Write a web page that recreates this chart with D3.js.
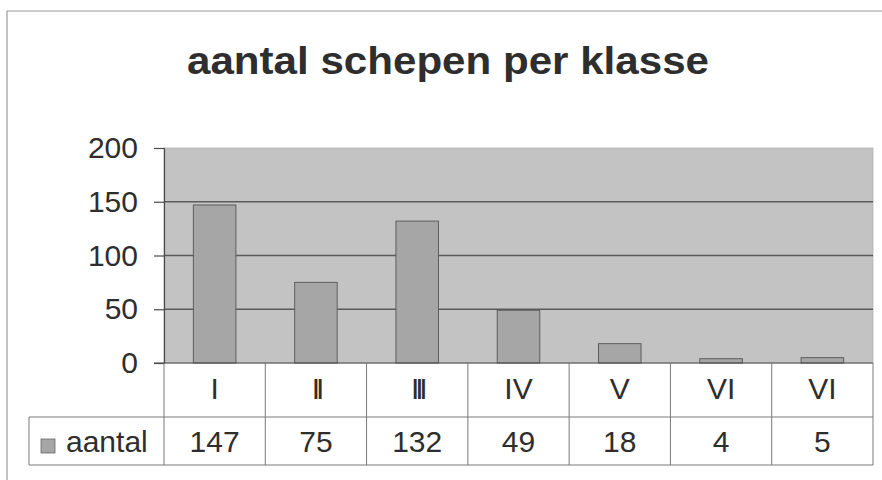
<!DOCTYPE html>
<html>
<head>
<meta charset="utf-8">
<script src="https://cdn.jsdelivr.net/npm/d3@7"></script>
<style>
  html, body { margin: 0; padding: 0; background: #fff; }
  svg { display: block; font-family: "Liberation Sans", Arial, sans-serif; }
</style>
</head>
<body>
<svg id="chart" width="882" height="480"></svg>
<script>
// ---- data ----
const title = "aantal schepen per klasse";
const seriesName = "aantal";
const categories = ["I", "II", "III", "IV", "V", "VI", "VI"];
const values = [147, 75, 132, 49, 18, 4, 5];
const yTicks = [0, 50, 100, 150, 200];

// ---- layout ----
const W = 882, H = 480;
const plot = { left: 164, right: 873, top: 148, bottom: 363 };
const row1Bottom = 417, row2Bottom = 465, legendLeft = 29;

const svg = d3.select("#chart");
const textColor = "#2e2e2e";
const lineColor = "#7a7a7a";

// outer frame
svg.append("path")
  .attr("d", `M7,${H} V11 H${W}`)
  .attr("fill", "none").attr("stroke", "#9a9a9a").attr("stroke-width", 1.2);

// title
svg.append("text")
  .attr("x", 187).attr("y", 74)
  .attr("font-size", 38).attr("font-weight", "bold")
  .attr("textLength", 522).attr("lengthAdjust", "spacingAndGlyphs")
  .attr("fill", textColor)
  .text(title);

const x = d3.scaleBand().domain(d3.range(categories.length))
  .range([plot.left, plot.right]).paddingInner(0).paddingOuter(0);
const y = d3.scaleLinear().domain([0, 200]).range([plot.bottom, plot.top]);

// plot background
svg.append("rect")
  .attr("x", plot.left).attr("y", plot.top)
  .attr("width", plot.right - plot.left).attr("height", plot.bottom - plot.top)
  .attr("fill", "#c3c3c3").attr("stroke", "#b5b5b5").attr("stroke-width", 0.8);

// gridlines
svg.append("g").selectAll("line")
  .data(yTicks.filter(d => d > 0 && d < 200))
  .join("line")
  .attr("x1", plot.left).attr("x2", plot.right)
  .attr("y1", d => y(d)).attr("y2", d => y(d))
  .attr("stroke", "#5a5a5a").attr("stroke-width", 1.3);

// bars
const barW = x.bandwidth() * 0.42;
svg.append("g").selectAll("rect")
  .data(values)
  .join("rect")
  .attr("x", (d, i) => x(i) + (x.bandwidth() - barW) / 2)
  .attr("y", d => y(d))
  .attr("width", barW)
  .attr("height", d => y(0) - y(d))
  .attr("fill", "#a6a6a6")
  .attr("stroke", "#5e5e5e").attr("stroke-width", 1);

// y axis
const yAxis = d3.axisLeft(y).tickValues(yTicks).tickSize(10).tickPadding(16);
const gy = svg.append("g").attr("transform", `translate(${plot.left},0)`).call(yAxis);
gy.select(".domain").attr("stroke", "#4a4a4a").attr("stroke-width", 1.2);
gy.selectAll(".tick line").attr("stroke", "#4a4a4a").attr("stroke-width", 1.2);
gy.selectAll(".tick text")
  .attr("font-size", 30).attr("fill", textColor)
  .attr("font-family", "Liberation Sans, Arial, sans-serif");

// x axis line across the bottom including tick stub
svg.append("line")
  .attr("x1", plot.left - 10).attr("x2", plot.right)
  .attr("y1", plot.bottom).attr("y2", plot.bottom)
  .attr("stroke", "#4a4a4a").attr("stroke-width", 1.2);

// ---- data table ----
const tbl = svg.append("g");
tbl.append("line").attr("x1", legendLeft).attr("x2", plot.right)
  .attr("y1", row1Bottom).attr("y2", row1Bottom)
  .attr("stroke", lineColor).attr("stroke-width", 1);
tbl.append("line").attr("x1", legendLeft).attr("x2", plot.right)
  .attr("y1", row2Bottom).attr("y2", row2Bottom)
  .attr("stroke", lineColor).attr("stroke-width", 1);
tbl.append("line").attr("x1", legendLeft).attr("x2", legendLeft)
  .attr("y1", row1Bottom).attr("y2", row2Bottom)
  .attr("stroke", lineColor).attr("stroke-width", 1);
const seps = d3.range(categories.length + 1).map(i => i < categories.length ? x(i) : x(i - 1) + x.bandwidth());
tbl.selectAll("line.sep").data(seps).join("line")
  .attr("class", "sep")
  .attr("x1", d => d).attr("x2", d => d)
  .attr("y1", plot.bottom).attr("y2", row2Bottom)
  .attr("stroke", lineColor).attr("stroke-width", 1);

// category labels
tbl.selectAll("text.cat").data(categories).join("text")
  .attr("class", "cat")
  .attr("x", (d, i) => x(i) + x.bandwidth() / 2)
  .attr("y", 399)
  .attr("text-anchor", "middle")
  .attr("font-size", 30).attr("fill", textColor)
  .attr("letter-spacing", d => /^I+$/.test(d) && d.length > 1 ? "-4.2px" : null)
  .text(d => d);

// value labels
tbl.selectAll("text.val").data(values).join("text")
  .attr("class", "val")
  .attr("x", (d, i) => x(i) + x.bandwidth() / 2)
  .attr("y", 452)
  .attr("text-anchor", "middle")
  .attr("font-size", 30).attr("fill", textColor)
  .text(d => d);

// legend key
tbl.append("rect")
  .attr("x", 41).attr("y", 439).attr("width", 14).attr("height", 14)
  .attr("fill", "#a6a6a6").attr("stroke", "#6a6a6a").attr("stroke-width", 0.8);
tbl.append("text")
  .attr("x", 66).attr("y", 452)
  .attr("font-size", 30).attr("fill", textColor)
  .text(seriesName);
</script>
</body>
</html>
